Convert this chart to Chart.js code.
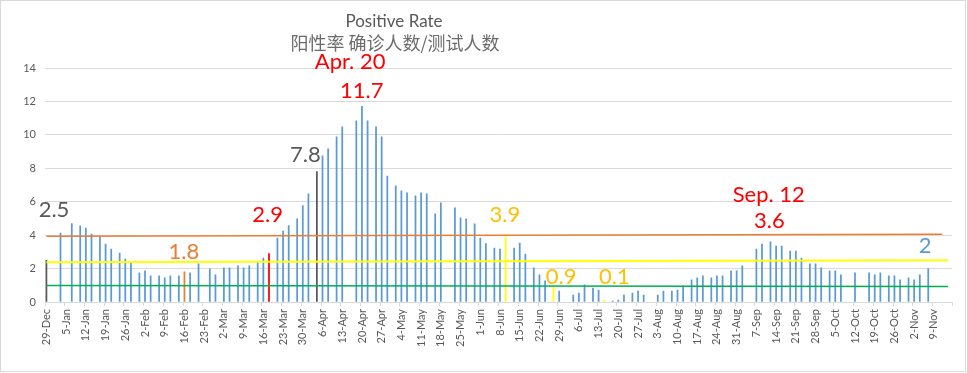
<!DOCTYPE html>
<html>
<head>
<meta charset="utf-8">
<script src="https://cdn.jsdelivr.net/npm/chart.js@4"></script>
<style>
  html, body { margin: 0; padding: 0; background: #fff; }
  #wrap { position: relative; width: 967px; height: 373px; }
</style>
</head>
<body>
<div id="wrap"><canvas id="chartcontainer" width="967" height="373"></canvas></div>
<script>
// week tick labels, one every 7 days, day 0 = 29-Dec
var weekLabels = ['29-Dec','5-Jan','12-Jan','19-Jan','26-Jan','2-Feb','9-Feb','16-Feb','23-Feb','2-Mar','9-Mar','16-Mar',
  '23-Mar','30-Mar','6-Apr','13-Apr','20-Apr','27-Apr','4-May','11-May','18-May','25-May','1-Jun','8-Jun','15-Jun',
  '22-Jun','29-Jun','6-Jul','13-Jul','20-Jul','27-Jul','3-Aug','10-Aug','17-Aug','24-Aug','31-Aug','7-Sep','14-Sep',
  '21-Sep','28-Sep','5-Oct','12-Oct','19-Oct','26-Oct','2-Nov','9-Nov'];

// days (offset from 29-Dec) that have a reported rate, and the rate (%)
var barDays = [0,5,9,12,14,16,19,21,23,26,28,30,33,35,37,40,42,44,47,49,51,54,58,60,63,65,68,70,72,75,77,79,
  82,84,86,89,91,93,96,98,100,103,105,110,112,114,117,119,121,124,126,128,131,133,135,138,140,145,147,149,152,154,156,
  159,161,163,166,168,170,173,175,177,180,182,187,189,191,194,196,198,201,203,205,208,210,212,217,219,222,224,226,
  229,231,233,236,238,240,243,245,247,252,254,257,259,261,264,266,268,271,273,275,278,280,282,287,292,294,296,299,
  301,303,306,308,310,313];
var barValues = [2.5,4.13,4.69,4.55,4.43,4.07,3.91,3.47,3.17,2.93,2.57,2.36,1.74,1.86,1.56,1.56,1.44,1.56,1.56,1.8,1.74,
  2.28,1.98,1.62,2.04,2.04,2.16,2.04,2.16,2.45,2.63,2.9,
  3.83,4.25,4.57,4.97,5.77,6.47,7.8,8.74,9.16,9.88,10.48,10.84,11.7,10.84,10.48,9.88,7.54,6.95,6.65,6.53,6.35,6.53,
  6.47,5.27,5.93,5.63,5.03,4.97,4.67,3.83,3.49,
  3.23,3.17,3.9,3.23,3.53,2.87,2.04,1.62,1.26,0.9,0.66,0.42,0.54,1.02,0.84,0.72,0.1,0.06,0.12,0.42,0.54,0.66,0.42,
  0.42,0.66,0.66,0.72,0.96,
  1.32,1.44,1.56,1.44,1.56,1.56,1.86,1.86,2.16,3.17,3.47,3.6,3.35,3.35,3.05,3.05,2.63,2.28,2.28,2.04,1.86,1.86,1.62,
  1.74,1.74,1.62,1.74,1.56,1.56,1.32,1.44,1.32,1.62,2.0];

// reference lines: [start, end] values and the days they run between
var orangeLine = [3.93, 4.05], orangeDays = [0, 318];
var yellowLine = [2.38, 2.5], yellowDays = [0, 320];
var greenLine = [0.98, 0.92], greenDays = [0, 320];

// highlighted days
var highlight = {0: '#595959', 49: '#ED7D31', 79: '#FF0000', 96: '#595959', 163: '#FFFF00', 180: '#FFFF00', 198: '#FFFF00'};

// callouts: text, anchor day, anchor value
var notes = [
  {t: '2.5', d: 2.7, v: 5.51, c: '#595959'},
  {t: '7.8', d: 91.9, v: 8.8, c: '#595959'},
  {t: 'Apr. 20', d: 107.8, v: 14.37, c: '#FF0000'},
  {t: '11.7', d: 111.9, v: 12.63, c: '#FF0000'},
  {t: '2.9', d: 78.5, v: 5.21, c: '#FF0000'},
  {t: '1.8', d: 48.8, v: 3.02, c: '#ED7D31'},
  {t: '3.9', d: 162.7, v: 5.21, c: '#FFC000'},
  {t: '0.9', d: 182.7, v: 1.5, c: '#FFC000'},
  {t: '0.1', d: 201.6, v: 1.5, c: '#FFC000'},
  {t: 'Sep. 12', d: 256.4, v: 6.41, c: '#FF0000'},
  {t: '3.6', d: 256.6, v: 4.85, c: '#FF0000'},
  {t: '2', d: 311.9, v: 3.38, c: '#5B9BD5'}
];

var nDays = weekLabels.length * 7;
var labels = [], bars = [], barColors = [];
for (var i = 0; i < nDays; i++) {
  labels.push(i % 7 == 0 ? weekLabels[i / 7] : '');
  bars.push(null);
  barColors.push(highlight[i] || '#5B9BD5');
}
for (var i = 0; i < barDays.length; i++) {
  bars[barDays[i]] = barValues[i];
}

function lineData(vals, days) {
  var arr = [];
  for (var i = 0; i < nDays; i++) arr.push(null);
  arr[days[0]] = vals[0];
  arr[days[1]] = vals[1];
  return arr;
}

var extras = {
  id: 'extras',
  afterDraw: function(chart) {
    var ctx = chart.ctx;
    var xs = chart.scales.x, ys = chart.scales.y;
    ctx.save();
    // chart border
    ctx.strokeStyle = '#d9d9d9';
    ctx.lineWidth = 1;
    ctx.strokeRect(0.5, 0.5, 965, 371);
    // title
    ctx.textAlign = 'center';
    ctx.textBaseline = 'middle';
    ctx.fillStyle = '#595959';
    ctx.font = '17px Lato';
    ctx.fillText('Positive Rate', 394, 22);
    ctx.fillStyle = '#6b6b6b';
    ctx.font = '18px "Noto Sans CJK SC"';
    ctx.fillText('阳性率 确诊人数/测试人数', 395, 43);
    // callouts
    ctx.font = '22px Lato';
    notes.forEach(function(n) {
      ctx.fillStyle = n.c;
      ctx.fillText(n.t, xs.getPixelForValue(n.d), ys.getPixelForValue(n.v));
    });
    ctx.restore();
  }
};

var ctx = document.getElementById('chartcontainer').getContext('2d');
var chart = new Chart(ctx, {
  type: 'bar',
  data: {
    labels: labels,
    datasets: [
      {type: 'line', data: lineData(orangeLine, orangeDays), borderColor: '#ED7D31', borderWidth: 1.5,
        pointRadius: 0, spanGaps: true, order: 1},
      {type: 'line', data: lineData(yellowLine, yellowDays), borderColor: '#FFFF00', borderWidth: 2,
        pointRadius: 0, spanGaps: true, order: 1},
      {type: 'line', data: lineData(greenLine, greenDays), borderColor: '#00B050', borderWidth: 1.5,
        pointRadius: 0, spanGaps: true, order: 1},
      {data: bars, backgroundColor: barColors, barThickness: 1.1, order: 2}
    ]
  },
  options: {
    responsive: false,
    animation: false,
    layout: {padding: {top: 68, right: 11, left: 0, bottom: 0}},
    plugins: {legend: {display: false}, tooltip: {enabled: false}, title: {display: false}},
    scales: {
      x: {
        grid: {
          drawOnChartArea: false,
          tickLength: 4,
          color: function(c) {
            if (c.index === undefined) return '#d9d9d9';
            return c.index % 7 == 0 ? '#d9d9d9' : 'rgba(0,0,0,0)';
          }
        },
        border: {color: '#d9d9d9'},
        ticks: {
          autoSkip: false, minRotation: 90, maxRotation: 90, padding: 3,
          color: '#595959', font: {family: 'Lato', size: 11},
          callback: function(v, i) { return labels[i]; }
        },
        afterFit: function(s) { s.height = 71; }
      },
      y: {
        min: 0, max: 14,
        grid: {color: '#d9d9d9', drawTicks: false},
        border: {display: false},
        ticks: {stepSize: 2, padding: 9, color: '#595959', font: {family: 'Lato', size: 11}},
        afterFit: function(s) { s.width = 45; }
      }
    }
  },
  plugins: [extras]
});
</script>
</body>
</html>
